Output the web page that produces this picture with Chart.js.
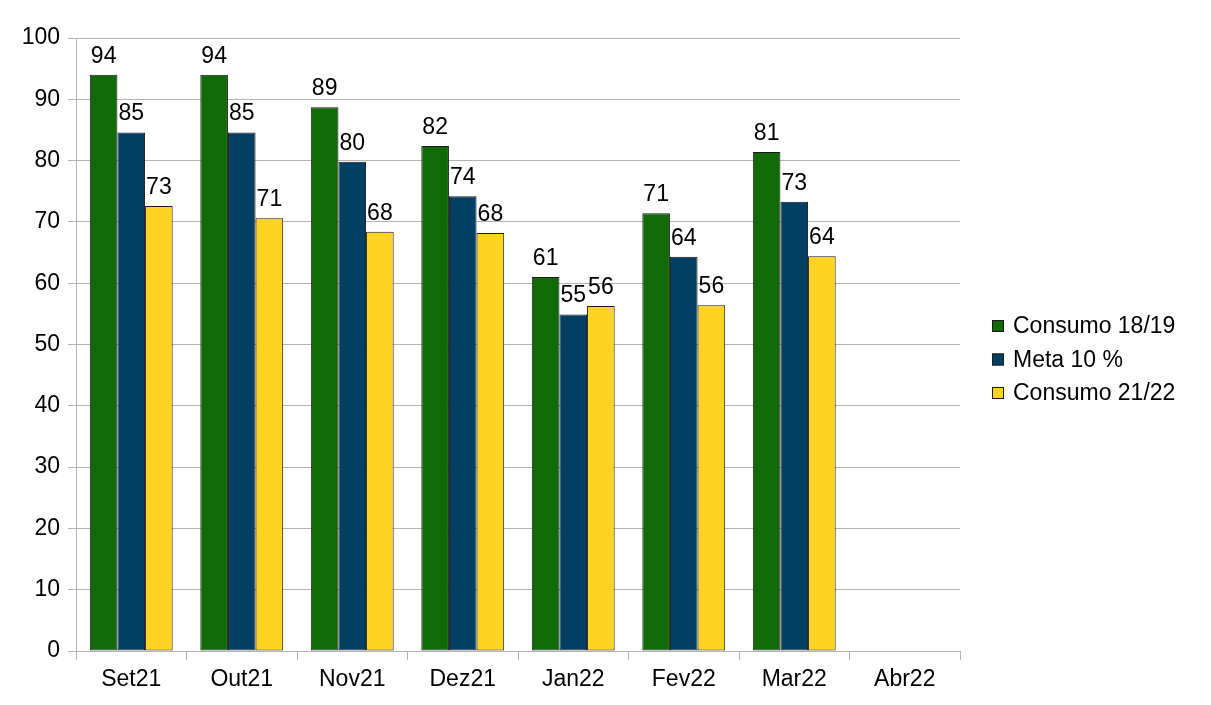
<!DOCTYPE html>
<html>
<head>
<meta charset="utf-8">
<style>
  html, body { margin: 0; padding: 0; background: #fff; }
  #wrap { width: 1211px; height: 705px; }
</style>
<script src="https://cdn.jsdelivr.net/npm/chart.js@4.4.1/dist/chart.umd.min.js"></script>
</head>
<body>
<div id="wrap"><canvas id="chart" width="1211" height="705"></canvas></div>
<script>
const months = ["Set21", "Out21", "Nov21", "Dez21", "Jan22", "Fev22", "Mar22", "Abr22"];
const consumo1819 = [94.0, 94.0, 88.7, 82.4, 61.0, 71.4, 81.4, null];
const meta10 = [84.6, 84.6, 79.8, 74.2, 54.9, 64.3, 73.3, null];
const consumo2122 = [72.6, 70.6, 68.4, 68.2, 56.3, 56.4, 64.4, null];
const yTicks = [0, 10, 20, 30, 40, 50, 60, 70, 80, 90, 100];

const FONT = "'Liberation Sans', Arial, sans-serif";
const FONT_SIZE = 23;
const GRID = "#b3b3b3";

// value labels above each bar
const valueLabels = {
  id: "valueLabels",
  afterDatasetsDraw(chart) {
    const ctx = chart.ctx;
    ctx.save();
    ctx.font = `${FONT_SIZE}px ${FONT}`;
    ctx.fillStyle = "#000";
    ctx.textAlign = "center";
    ctx.textBaseline = "alphabetic";
    chart.data.datasets.forEach((ds, i) => {
      chart.getDatasetMeta(i).data.forEach((bar, j) => {
        const v = ds.data[j];
        if (v == null) return;
        ctx.fillText(String(Math.round(v)), bar.x, bar.y - 12);
      });
    });
    ctx.restore();
  },
};

// legend on the right, drawn like the original
const sideLegend = {
  id: "sideLegend",
  afterDraw(chart) {
    const ctx = chart.ctx;
    const x = chart.chartArea.right + 32;
    const y0 = 326;
    const step = 33.5;
    ctx.save();
    ctx.font = `${FONT_SIZE}px ${FONT}`;
    ctx.textBaseline = "middle";
    chart.data.datasets.forEach((ds, i) => {
      const y = y0 + i * step;
      ctx.fillStyle = ds.backgroundColor;
      ctx.fillRect(x, y - 6, 12, 12);
      ctx.strokeStyle = "#1a1a1a";
      ctx.lineWidth = 1;
      ctx.strokeRect(x + 0.5, y - 5.5, 11, 11);
      ctx.fillStyle = "#000";
      ctx.fillText(ds.label, x + 21, y + 1);
    });
    ctx.restore();
  },
};

const barStyle = {
  borderColor: "#1a1a1a",
  borderWidth: 1,
  borderSkipped: false,
  categoryPercentage: 0.75,
  barPercentage: 1.0,
};

new Chart(document.getElementById("chart"), {
  type: "bar",
  data: {
    labels: months,
    datasets: [
      { label: "Consumo 18/19", data: consumo1819, backgroundColor: "#106a07", ...barStyle },
      { label: "Meta 10 %", data: meta10, backgroundColor: "#033e63", ...barStyle },
      { label: "Consumo 21/22", data: consumo2122, backgroundColor: "#ffd324", ...barStyle },
    ],
  },
  options: {
    responsive: false,
    animation: false,
    layout: { padding: { top: 38, right: 251, left: 0, bottom: 0 } },
    plugins: {
      legend: { display: false },
      tooltip: { enabled: false },
    },
    scales: {
      x: {
        afterFit: (scale) => { scale.height = 54; },
        grid: {
          offset: true,
          color: (c) => (c.index === months.length ? GRID : "rgba(0,0,0,0)"),
          tickColor: GRID,
          tickLength: 9,
        },
        border: { color: GRID },
        ticks: { color: "#000", font: { family: FONT, size: FONT_SIZE }, padding: 6 },
      },
      y: {
        min: 0,
        max: 100,
        afterFit: (scale) => { scale.width = 76; },
        afterBuildTicks: (scale) => { scale.ticks = yTicks.map((v) => ({ value: v })); },
        grid: { color: GRID, tickColor: GRID, tickLength: 8 },
        border: { color: GRID },
        ticks: { color: "#000", font: { family: FONT, size: FONT_SIZE }, padding: 8 },
      },
    },
  },
  plugins: [valueLabels, sideLegend],
});
</script>
</body>
</html>
